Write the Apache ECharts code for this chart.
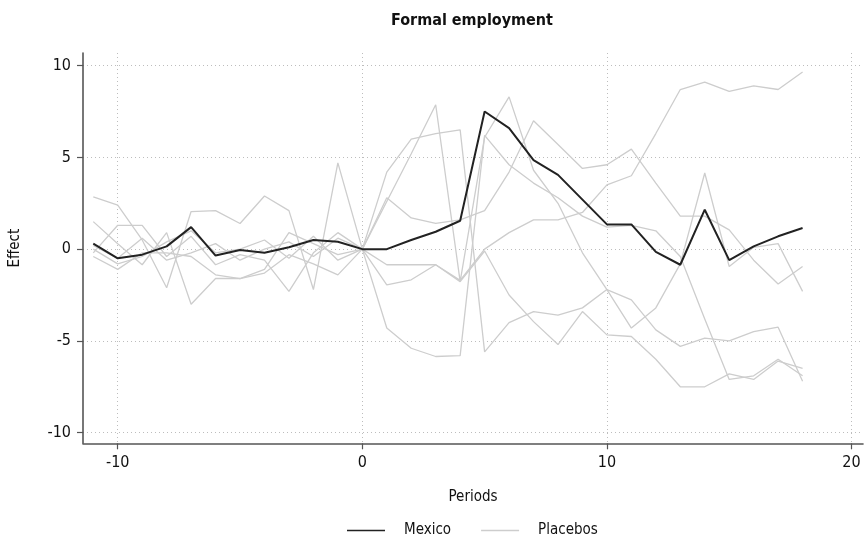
<!DOCTYPE html>
<html>
<head>
<meta charset="utf-8">
<script src="https://cdn.jsdelivr.net/npm/echarts@6/dist/echarts.min.js"></script>
<style>
  html, body { margin: 0; padding: 0; background: #fff; }
  #chart { width: 867px; height: 552px; }
</style>
</head>
<body>
<div id="chart"></div>
<script>
// Periods relative to the start of treatment
const periods = [-11,-10,-9,-8,-7,-6,-5,-4,-3,-2,-1,0,1,2,3,4,5,6,7,8,9,10,11,12,13,14,15,16,17,18];

// Effect on formal employment for Mexico
const mexico = [0.3,-0.5,-0.3,0.15,1.2,-0.35,-0.05,-0.2,0.1,0.5,0.4,0,0,0.5,0.95,1.55,7.5,6.6,4.85,4.05,2.7,1.35,1.35,-0.15,-0.85,2.15,-0.6,0.15,0.7,1.15];

// Placebo runs
const placebo1 = [2.85,2.4,0.5,-2.1,2.05,2.1,1.4,2.9,2.1,-2.2,4.7,0,4.2,6.0,6.3,6.5,-5.6,-4.0,-3.4,-3.6,-3.2,-2.2,-2.76,-4.4,-5.3,-4.85,-5.0,-4.5,-4.25,-7.2];
const placebo2 = [1.5,0.3,-0.85,0.9,-3.0,-1.6,-1.6,-1.1,0.9,0.3,-0.3,0,2.6,5.2,7.87,-1.77,6.1,8.3,4.3,2.5,-0.2,-2.2,-4.3,-3.2,-0.8,4.15,-0.95,0.1,0.3,-2.3];
const placebo3 = [-0.2,1.3,1.3,-0.4,0.7,-0.85,-0.3,-0.6,-2.3,-0.2,0.9,0,2.8,1.7,1.4,1.6,2.1,4.2,7.0,5.7,4.4,4.6,5.45,3.6,1.8,1.8,1.05,-0.6,-1.9,-0.95];
const placebo4 = [-0.4,-1.1,-0.2,-0.2,-0.4,-1.4,-1.6,-1.3,-0.3,-0.8,-1.4,0,-0.85,-0.85,-0.85,-1.7,0.0,0.9,1.6,1.6,2.0,3.5,4.0,6.3,8.7,9.1,8.6,8.9,8.7,9.65];
const placebo5 = [0.0,-0.8,-0.4,0.4,1.0,-0.2,0.0,0.5,-0.5,0.7,-0.6,0,-1.95,-1.67,-0.85,-1.77,-0.1,-2.5,-3.95,-5.2,-3.4,-4.67,-4.76,-6.0,-7.5,-7.5,-6.8,-7.1,-6.1,-6.5];
const placebo6 = [0.2,-0.5,0.6,-0.6,-0.2,0.3,-0.6,0.0,0.4,-0.4,0.6,0,-4.3,-5.4,-5.85,-5.8,6.2,4.6,3.6,2.8,1.8,1.2,1.3,1.0,-0.4,-3.8,-7.1,-6.9,-6.0,-6.9];
const placebos = [placebo1, placebo2, placebo3, placebo4, placebo5, placebo6];

// Tick values
const xTicks = [-10, 0, 10, 20];
const yTicks = [-10, -5, 0, 5, 10];

const FONT = "'Liberation Sans Narrow', 'DejaVu Sans Condensed', 'Liberation Sans', sans-serif";
const pairs = arr => periods.map((p, i) => [p, arr[i]]);

const chart = echarts.init(document.getElementById('chart'), null, { renderer: 'canvas' });

const gridLine = { color: '#bdbdbd', type: [1, 3], width: 1 };

const placeboSeries = placebos.map(arr => ({
  name: 'Placebos',
  type: 'line',
  data: pairs(arr),
  showSymbol: false,
  symbol: 'none',
  lineStyle: { color: '#cdcdcd', width: 1.3 },
  itemStyle: { color: '#cdcdcd' },
  z: 2,
  animation: false
}));

chart.setOption({
  animation: false,
  backgroundColor: '#ffffff',
  textStyle: { fontFamily: FONT },
  title: {
    text: 'Formal employment',
    left: 467, top: 8, textAlign: 'center',
    textStyle: { fontFamily: FONT, fontSize: 16, fontWeight: 'bold', color: '#111' }
  },
  legend: {
    data: ['Mexico', 'Placebos'],
    left: 342, top: 518,
    icon: 'rect',
    itemWidth: 38, itemHeight: 1.5,
    itemGap: 30,
    textStyle: { fontFamily: FONT, fontSize: 15, color: '#111', padding: [0, 0, 0, 14] }
  },
  grid: { left: 82.7, right: 4, top: 53, bottom: 108.7, containLabel: false },
  xAxis: {
    type: 'value',
    min: -11.42, max: 20.47,
    name: 'Periods', nameLocation: 'middle', nameGap: 46,
    nameTextStyle: { fontFamily: FONT, fontSize: 15, color: '#111' },
    axisLine: { show: true, onZero: false, lineStyle: { color: '#555', width: 1.6 } },
    axisTick: { show: true, customValues: xTicks, length: 6, lineStyle: { color: '#555', width: 1.2 } },
    axisLabel: { customValues: xTicks, fontFamily: FONT, fontSize: 16, color: '#111', margin: 12 },
    splitLine: { show: true, lineStyle: gridLine }
  },
  yAxis: {
    type: 'value',
    min: -10.58, max: 10.69,
    name: 'Effect', nameLocation: 'middle', nameGap: 60, nameRotate: 90,
    nameTextStyle: { fontFamily: FONT, fontSize: 15, color: '#111' },
    axisLine: { show: true, onZero: false, lineStyle: { color: '#555', width: 1.6 } },
    axisTick: { show: true, customValues: yTicks, length: 6, lineStyle: { color: '#555', width: 1.2 } },
    axisLabel: { customValues: yTicks, fontFamily: FONT, fontSize: 16, color: '#111', margin: 12 },
    splitLine: { show: true, lineStyle: gridLine }
  },
  series: placeboSeries.concat([{
    name: 'Mexico',
    type: 'line',
    data: pairs(mexico),
    showSymbol: false,
    symbol: 'none',
    lineStyle: { color: '#222', width: 2 },
    itemStyle: { color: '#222' },
    z: 5,
    animation: false
  }])
});
</script>
</body>
</html>
